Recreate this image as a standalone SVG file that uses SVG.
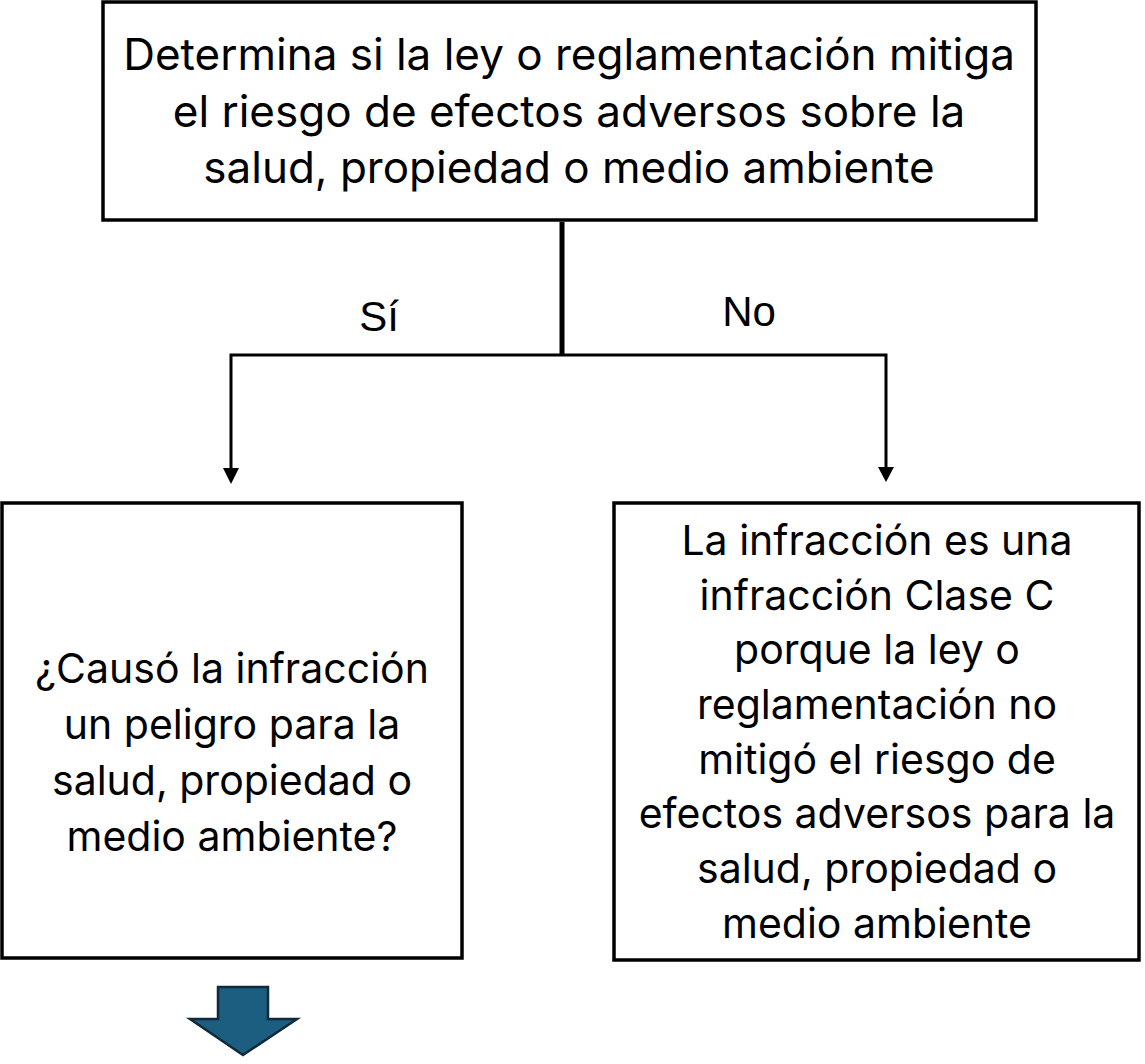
<svg xmlns="http://www.w3.org/2000/svg" width="1145" height="1064" viewBox="0 0 1145 1064">
<style>
.box{fill:#fff;stroke:#000;stroke-width:3.5}
.t{font-family:Inter,"Noto Sans",sans-serif;font-size:41px;fill:#000;text-anchor:middle}
.tt{font-size:44px}
.lbl{font-family:"Liberation Sans",Arial,sans-serif;font-size:42px;fill:#000;text-anchor:middle}
.c{fill:none;stroke:#000;stroke-width:3}
</style>
<rect width="1145" height="1064" fill="#fff"/>
<g id="top">
<rect class="box" x="103" y="2" width="933" height="218"/>
<text class="t tt" x="569" y="70">Determina si la ley o reglamentación mitiga</text>
<text class="t tt" x="569" y="127">el riesgo de efectos adversos sobre la</text>
<text class="t tt" x="569" y="183">salud, propiedad o medio ambiente</text>
</g>
<g id="connectors">
<line x1="562" y1="222" x2="562" y2="356" stroke="#000" stroke-width="5"/>
<polyline class="c" points="560,355 231,355 231,470"/>
<polyline class="c" points="560,355 886,355 886,470"/>
<path d="M223,468 L239,468 L231,484 Z" fill="#000"/>
<path d="M878,467 L894,467 L886,482 Z" fill="#000"/>
<text class="lbl" x="379" y="331">Sí</text>
<text class="lbl" x="749" y="326">No</text>
</g>
<g id="left">
<rect class="box" x="2" y="503" width="460" height="455"/>
<text class="t" x="232" y="683">¿Causó la infracción</text>
<text class="t" x="232" y="739">un peligro para la</text>
<text class="t" x="232" y="795">salud, propiedad o</text>
<text class="t" x="232" y="851">medio ambiente?</text>
</g>
<g id="right">
<rect class="box" x="614" y="503" width="525" height="457"/>
<text class="t" x="877" y="555">La infracción es una</text>
<text class="t" x="877" y="610">infracción Clase C</text>
<text class="t" x="877" y="664">porque la ley o</text>
<text class="t" x="877" y="719">reglamentación no</text>
<text class="t" x="877" y="774">mitigó el riesgo de</text>
<text class="t" x="877" y="828">efectos adversos para la</text>
<text class="t" x="877" y="883">salud, propiedad o</text>
<text class="t" x="877" y="938">medio ambiente</text>
</g>
<g id="arrow">
<path d="M218,987 L268,987 L268,1019 L297,1019 L243,1055 L190,1019 L218,1019 Z" fill="#1b5e80" stroke="#0f2a3a" stroke-width="2.5"/>
</g>
</svg>
